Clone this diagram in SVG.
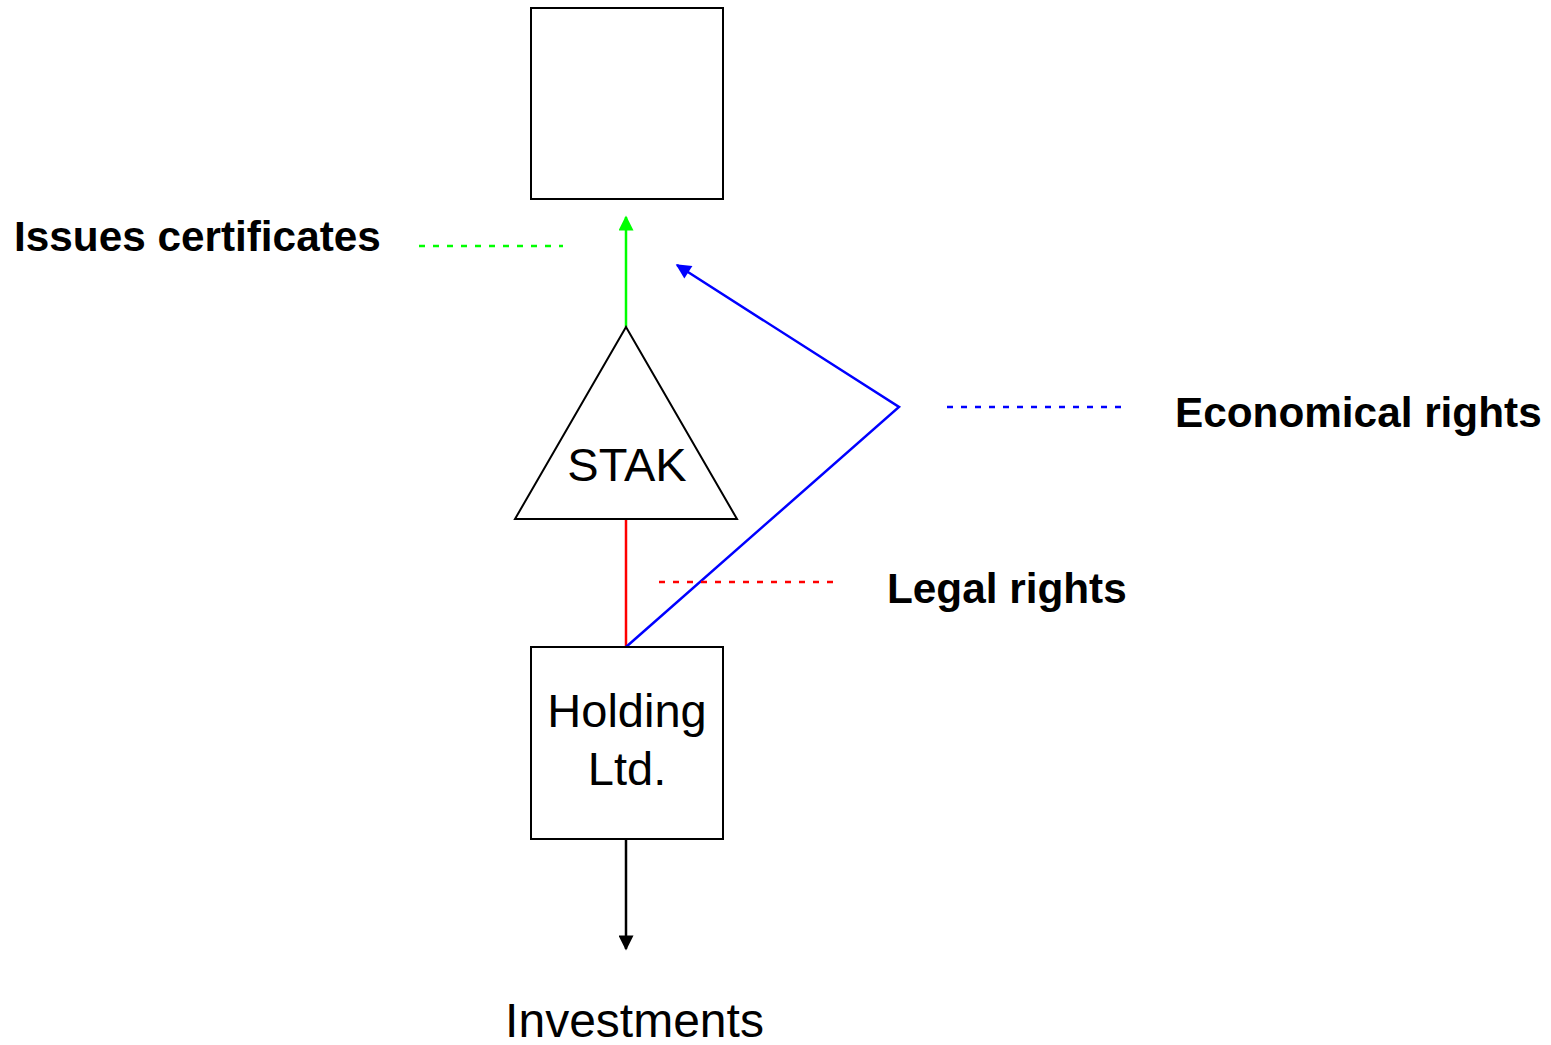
<svg xmlns="http://www.w3.org/2000/svg" width="1551" height="1045" viewBox="0 0 1551 1045">
<style>
.shape{fill:#fff;stroke:#000;stroke-width:2}
.lbl{font-family:"Liberation Sans",Arial,sans-serif;font-size:47px;fill:#000;text-anchor:middle}
.note{font-family:"Liberation Sans",Arial,sans-serif;font-size:42.3px;font-weight:bold;fill:#000}
.dash{stroke-width:2.5;stroke-dasharray:6 8;fill:none}
.conn{stroke-width:2.5;fill:none}
</style>
<defs>
<marker id="ag" viewBox="0 0 10 10" refX="9" refY="5" markerWidth="16" markerHeight="15" markerUnits="userSpaceOnUse" orient="auto"><path d="M0,0 L10,5 L0,10 z" fill="#00ff00"/></marker>
<marker id="ab" viewBox="0 0 10 10" refX="9" refY="5" markerWidth="16" markerHeight="15" markerUnits="userSpaceOnUse" orient="auto"><path d="M0,0 L10,5 L0,10 z" fill="#0000ff"/></marker>
<marker id="ak" viewBox="0 0 10 10" refX="9" refY="5" markerWidth="16" markerHeight="15" markerUnits="userSpaceOnUse" orient="auto"><path d="M0,0 L10,5 L0,10 z" fill="#000"/></marker>
</defs>
<rect width="1551" height="1045" fill="#fff"/>
<g id="connectors">
<line class="conn" x1="626" y1="327" x2="626" y2="217" stroke="#00ff00" marker-end="url(#ag)"/>
<line class="conn" x1="626" y1="519" x2="626" y2="647" stroke="#ff0000"/>
<polyline class="conn" points="626,647 899,407 677,265" stroke="#0000ff" marker-end="url(#ab)"/>
<line class="conn" x1="626" y1="839" x2="626" y2="949" stroke="#000" marker-end="url(#ak)"/>
<line class="dash" x1="419" y1="246" x2="563" y2="246" stroke="#00ff00"/>
<line class="dash" x1="947" y1="407" x2="1122" y2="407" stroke="#0000ff"/>
<line class="dash" x1="659" y1="582" x2="836" y2="582" stroke="#ff0000"/>
</g>
<g id="top-box"><rect class="shape" x="531" y="8" width="192" height="191"/></g>
<g id="stak"><polygon class="shape" points="626,327 737,519 515,519"/><text class="lbl" x="627" y="481">STAK</text></g>
<g id="holding"><rect class="shape" x="531" y="647" width="192" height="192"/><text class="lbl" x="627" y="727">Holding</text><text class="lbl" x="627" y="785">Ltd.</text></g>
<g id="investments"><text class="lbl" x="634.5" y="1037" style="font-size:48px">Investments</text></g>
<g id="issues"><text class="note" x="14" y="251">Issues certificates</text></g>
<g id="economical"><text class="note" x="1175" y="427">Economical rights</text></g>
<g id="legal"><text class="note" x="887" y="603">Legal rights</text></g>
</svg>
